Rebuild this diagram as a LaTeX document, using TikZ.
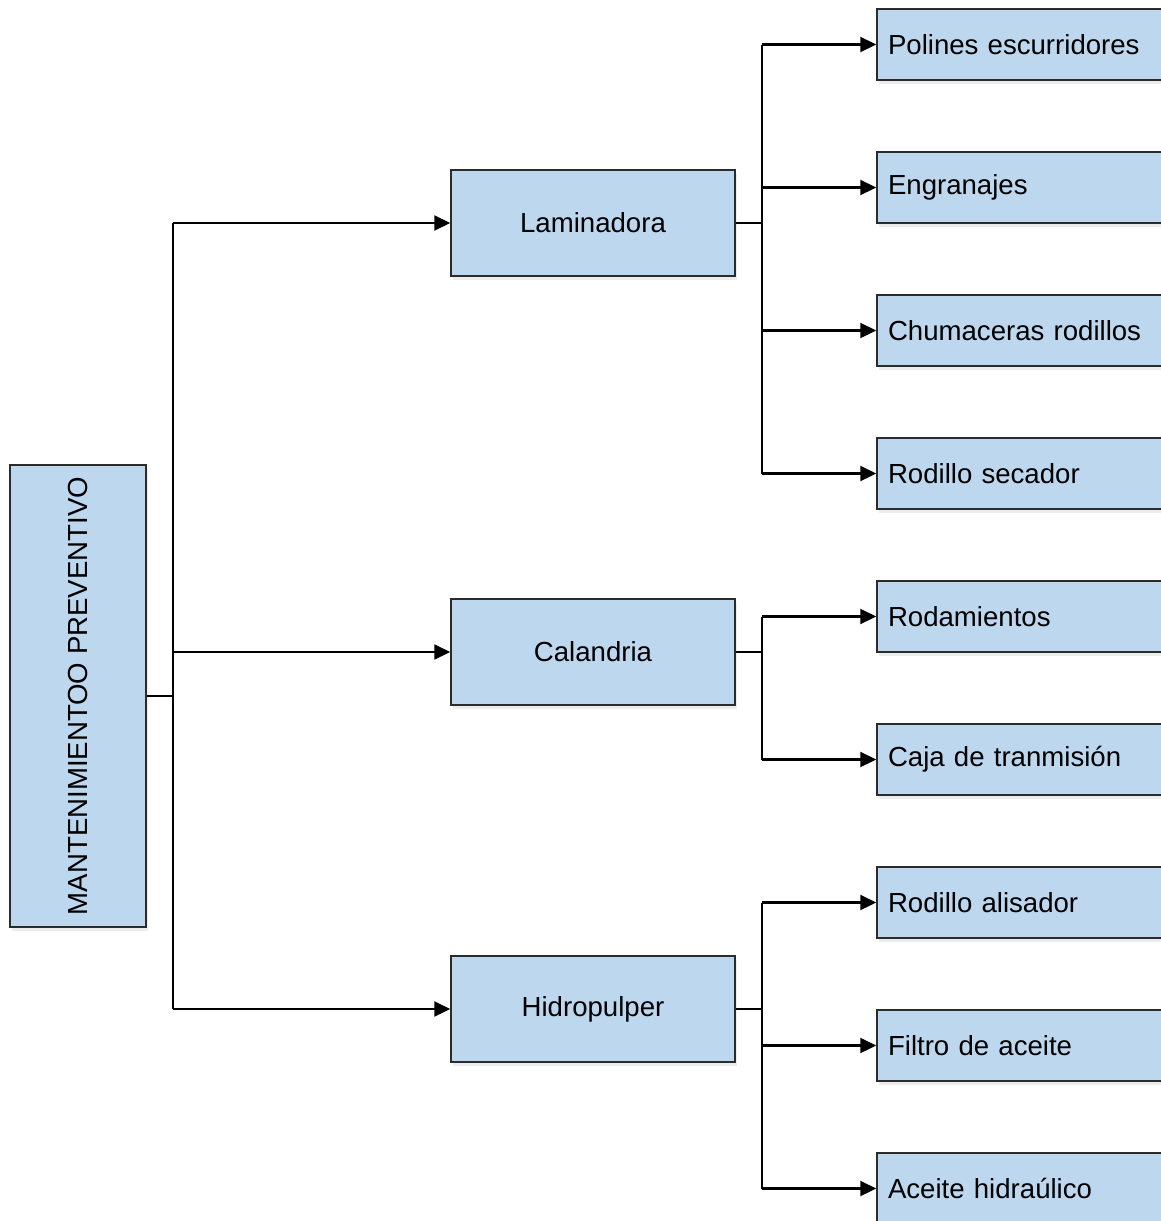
\documentclass[tikz,border=0pt]{standalone}
\usepackage{fontspec}
\setmainfont{Liberation Sans}
\usetikzlibrary{arrows.meta,shadows}
\definecolor{boxfill}{HTML}{BDD7EE}
\definecolor{boxline}{HTML}{2B2B2B}
\tikzset{
  box/.style={draw=boxline, line width=1.5pt, fill=boxfill, rectangle, inner sep=0pt,
    font=\fontsize{27.6}{32}\selectfont,
    drop shadow={shadow xshift=2pt, shadow yshift=-4pt, opacity=0.12, fill=black!60}},
  midbox/.style={box, minimum width=284pt, minimum height=106pt},
  leafbox/.style={box, minimum width=298pt, minimum height=71pt, text width=276pt, align=left},
  link/.style={line width=2.2pt, draw=black},
  arr/.style={link, -{Triangle[length=16pt,width=15pt]}}
}
\begin{document}
\begin{tikzpicture}[x=1pt,y=-1pt]
\useasboundingbox (0,0) rectangle (1161,1221);
\clip (0,0) rectangle (1161,1221);
\fill[white] (0,0) rectangle (1161,1221);

% root
\node[box, rotate=90, minimum width=462pt, minimum height=136pt] (root) at (78,696) {MANTENIMIENTOO PREVENTIVO};

% second level
\node[midbox] (lam) at (593,223) {Laminadora};
\node[midbox] (cal) at (593,652) {Calandria};
\node[midbox] (hid) at (593,1009) {Hidropulper};

% leaves
\node[leafbox] (l1) at (1026,44.5) {Polines escurridores};
\node[leafbox] (l2) at (1026,187.5) {Engranajes};
\node[leafbox] (l3) at (1026,330.5) {Chumaceras rodillos};
\node[leafbox] (l4) at (1026,473.5) {Rodillo secador};
\node[leafbox] (c1) at (1026,616.5) {Rodamientos};
\node[leafbox] (c2) at (1026,759.5) {Caja de tranmisión};
\node[leafbox] (h1) at (1026,902.5) {Rodillo alisador};
\node[leafbox] (h2) at (1026,1045.5) {Filtro de aceite};
\node[leafbox] (h3) at (1026,1188.5) {Aceite hidraúlico};

% trunk
\coordinate (t) at (173,696);
\draw[link] (root.south) -- (t);
\draw[link] (t |- lam.west) -- (t |- hid.west);
\foreach \n in {lam,cal,hid} \draw[arr] (t |- \n.west) -- (\n.west);

% branches
\coordinate (bl) at (762,223);
\draw[link] (lam.east) -- (bl);
\draw[link] (bl |- l1.west) -- (bl |- l4.west);
\foreach \n in {l1,l2,l3,l4} \draw[arr] (bl |- \n.west) -- (\n.west);

\coordinate (bc) at (762,652);
\draw[link] (cal.east) -- (bc);
\draw[link] (bc |- c1.west) -- (bc |- c2.west);
\foreach \n in {c1,c2} \draw[arr] (bc |- \n.west) -- (\n.west);

\coordinate (bh) at (762,1009);
\draw[link] (hid.east) -- (bh);
\draw[link] (bh |- h1.west) -- (bh |- h3.west);
\foreach \n in {h1,h2,h3} \draw[arr] (bh |- \n.west) -- (\n.west);
\end{tikzpicture}
\end{document}
